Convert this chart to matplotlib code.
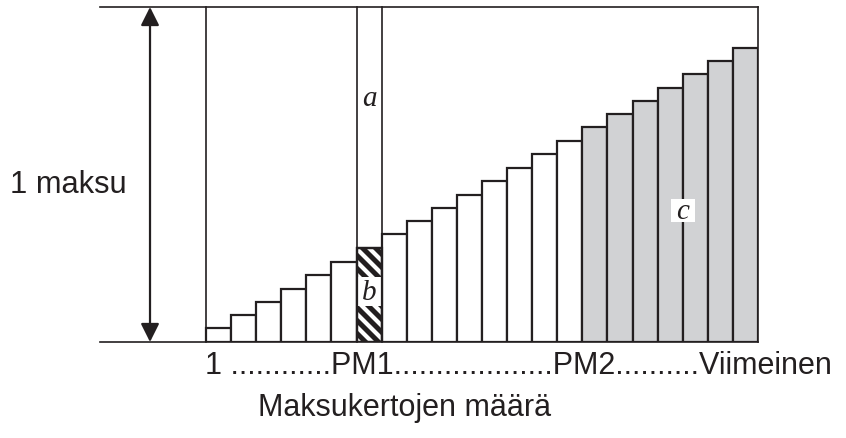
import numpy as np
import matplotlib.pyplot as plt
from matplotlib.patches import Rectangle

plt.rcParams['font.family'] = ['Liberation Sans', 'DejaVu Sans']

# share of one payment that goes to principal, per instalment
principal = [0.041, 0.081, 0.120, 0.158, 0.200, 0.239, 0.280, 0.321, 0.361, 0.400, 0.439,
             0.481, 0.519, 0.561, 0.601, 0.641, 0.680, 0.720, 0.759, 0.800, 0.840, 0.878]
pm1 = 6      # index of the PM1 instalment
pm2 = 15     # gray bars start here (PM2 .. last)
payment = 1.0
x_axis_text = "1 ............PM1...................PM2..........Viimeinen"
x_title = "Maksukertojen määrä"
y_text = "1 maksu"

ink = '#231f20'
gray = '#d1d2d4'

n = len(principal)
fig = plt.figure(figsize=(8.46, 4.39), dpi=100)
ax = fig.add_axes([100 / 846, 96 / 439, 658 / 846, 335 / 439])
sx, sy = 25.1, 335.0          # pixels per data unit
x0 = -106 / sx
ax.set_xlim(x0, n)
ax.set_ylim(0, payment)
ax.axis('off')

idx = np.arange(n)
colors = ['white' if i < pm2 else gray for i in idx]
ax.bar(idx, principal, width=1, align='edge', color=colors, edgecolor=ink, linewidth=1.6, zorder=2)

# PM1 bar: striped principal part
hb = ax.bar(pm1, principal[pm1], width=1, align='edge', color='none', edgecolor=ink,
            linewidth=1.6, zorder=4)[0]
clip = Rectangle((pm1, 0), 1, principal[pm1], transform=ax.transData)
for c in np.arange(-30, 140, 13.0):
    xs = np.array([pm1 - 1, pm1 + 2])
    ys = (-(xs - pm1) * sx + c) / sy
    ln, = ax.plot(xs, ys, color=ink, lw=3.6, solid_capstyle='butt', zorder=3)
    ln.set_clip_path(clip)
ax.add_patch(Rectangle((pm1, 0.107), 1, 0.087, facecolor='white',
                       edgecolor='none', zorder=3.5))

# full payment outlines
ax.plot([x0, n], [payment, payment], color=ink, lw=1.2, clip_on=False, zorder=5)
ax.plot([x0, n], [0, 0], color=ink, lw=1.2, clip_on=False, zorder=5)
for xv in [0, pm1, pm1 + 1, n]:
    ax.plot([xv, xv], [0, payment], color=ink, lw=1.2, clip_on=False, zorder=5)

# double arrow
ax.annotate('', xy=(-2.23, payment), xytext=(-2.23, 0),
            arrowprops=dict(arrowstyle='<|-|>', color=ink, lw=1.6, mutation_scale=28,
                            shrinkA=0, shrinkB=0))

lab = dict(family=['Liberation Serif', 'DejaVu Serif'], style='italic', fontsize=21,
           ha='center', va='center', color=ink, zorder=6)
ax.text(pm1 + 0.5, 0.727, 'a', **lab)
ax.text(pm1 + 0.5, 0.150, 'b', **lab)
ax.add_patch(Rectangle((18.55, 0.357), 0.92, 0.07, facecolor='white', edgecolor='none', zorder=5.5))
ax.text(19.0, 0.392, 'c', **lab)

fig.text(10 / 846, 1 - 185 / 439, y_text, fontsize=22.2, ha='left', va='center', color=ink)
fig.text(205 / 846, 1 - 366 / 439, x_axis_text, fontsize=22, ha='left', va='center', color=ink)
fig.text(258 / 846, 1 - 408 / 439, x_title, fontsize=22, ha='left', va='center', color=ink)

fig.savefig('out.png', dpi=100, facecolor='white')
